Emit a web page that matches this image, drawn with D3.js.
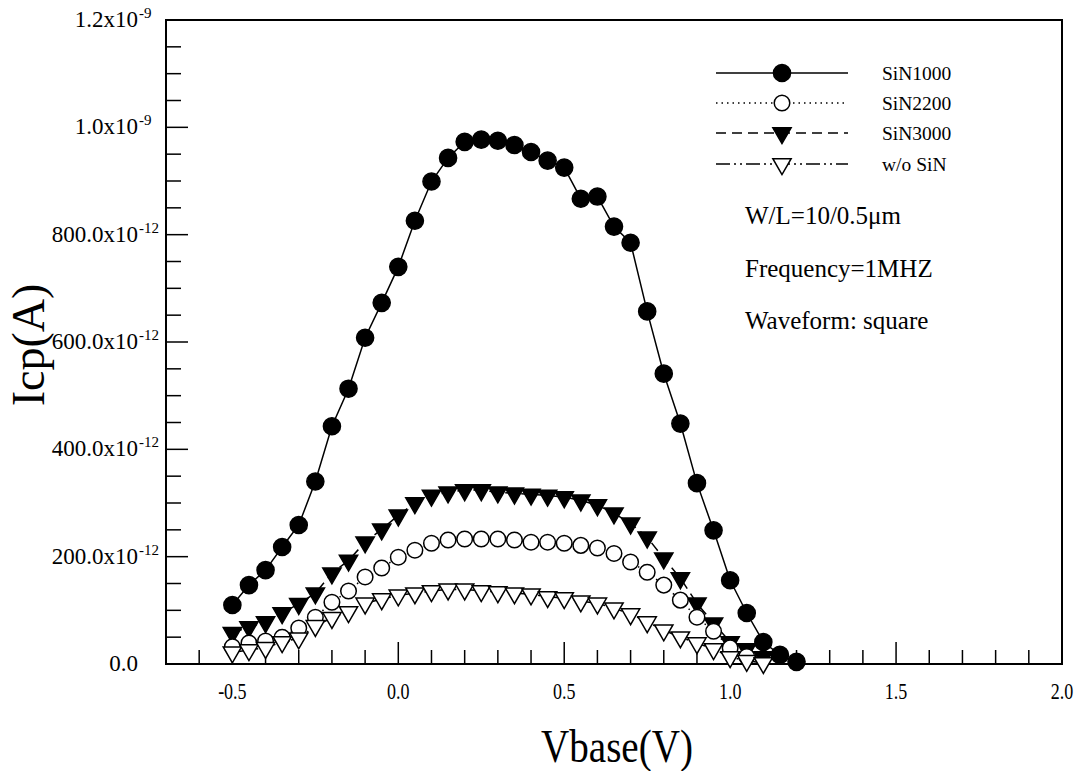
<!DOCTYPE html>
<html><head><meta charset="utf-8">
<script src="https://cdn.jsdelivr.net/npm/d3@7"></script>
<style>
html,body{margin:0;padding:0;background:#fff;}
svg text{font-family:"Liberation Serif","Times New Roman","DejaVu Serif",serif;fill:#000;}
</style></head>
<body><svg id="chart" width="1082" height="771" font-family="Liberation Serif, serif"></svg>
<script>
// ---- data (current in pA, i.e. ×1e-12 A) ----
const xSiN1000 = [-0.5,-0.45,-0.4,-0.35,-0.3,-0.25,-0.2,-0.15,-0.1,-0.05,0.0,0.05,0.1,0.15,0.2,0.25,0.3,0.35,0.4,0.45,0.5,0.55,0.6,0.65,0.7,0.75,0.8,0.85,0.9,0.95,1.0,1.05,1.1,1.15,1.2];
const ySiN1000 = [110,147,175,218,259,340,443,513,608,673,740,826,899,943,973,977,975,967,954,938,925,867,871,815,785,657,541,448,337,249,156,95,41,17,4];

const xSiN2200 = [-0.5,-0.45,-0.4,-0.35,-0.3,-0.25,-0.2,-0.15,-0.1,-0.05,0.0,0.05,0.1,0.15,0.2,0.25,0.3,0.35,0.4,0.45,0.5,0.55,0.6,0.65,0.7,0.75,0.8,0.85,0.9,0.95,1.0,1.05];
const ySiN2200 = [32,39,43,50,67,87,115,136,162,179,199,212,225,231,233,233,233,231,227,227,225,221,216,206,190,171,147,119,87,61,30,14];

const xSiN3000 = [-0.5,-0.45,-0.4,-0.35,-0.3,-0.25,-0.2,-0.15,-0.1,-0.05,0.0,0.05,0.1,0.15,0.2,0.25,0.3,0.35,0.4,0.45,0.5,0.55,0.6,0.65,0.7,0.75,0.8,0.85,0.9,0.95,1.0,1.05,1.1];
const ySiN3000 = [58,69,78,95,112,132,169,193,227,251,277,300,314,320,324,324,320,318,316,314,311,305,296,281,262,236,197,160,113,76,41,28,13];

const xNoSiN = [-0.5,-0.45,-0.4,-0.35,-0.3,-0.25,-0.2,-0.15,-0.1,-0.05,0.0,0.05,0.1,0.15,0.2,0.25,0.3,0.35,0.4,0.45,0.5,0.55,0.6,0.65,0.7,0.75,0.8,0.85,0.9,0.95,1.0,1.05,1.1];
const yNoSiN = [22,26,30,41,48,71,86,97,113,121,128,132,136,139,139,136,134,132,130,125,123,117,113,104,93,78,63,50,39,28,13,6,2];

const seriesNames = ["SiN1000","SiN2200","SiN3000","w/o SiN"];
const xMajorTicks = [-0.5,0.0,0.5,1.0,1.5,2.0];
const xTickLabels = ["-0.5","0.0","0.5","1.0","1.5","2.0"];
const xMinorTicks = [-0.6,-0.4,-0.3,-0.2,-0.1,0.1,0.2,0.3,0.4,0.6,0.7,0.8,0.9,1.1,1.2,1.3,1.4,1.6,1.7,1.8,1.9];
const yMajorTicks = [0,200,400,600,800,1000,1200];
const yTickMantissa = ["0.0","200.0x10","400.0x10","600.0x10","800.0x10","1.0x10","1.2x10"];
const yTickExponent = ["","-12","-12","-12","-12","-9","-9"];
const yMinorTicks = [50,100,150,250,300,350,450,500,550,650,700,750,850,900,950,1050,1100,1150];
const annotations = ["W/L=10/0.5\u03bcm","Frequency=1MHZ","Waveform: square"];
const xTitle = "Vbase(V)";
const yTitle = "Icp(A)";

// ---- layout ----
const L = 166, R = 1062, T = 20, B = 664;
const svg = d3.select("#chart");
const x = d3.scaleLinear().domain([-0.7, 2.0]).range([L, R]);
const y = d3.scaleLinear().domain([0, 1200]).range([B, T]);

// frame
svg.append("rect").attr("x", L).attr("y", T).attr("width", R - L).attr("height", B - T)
  .attr("fill", "none").attr("stroke", "#000").attr("stroke-width", 2);

// x axis ticks (inward)
const gx = svg.append("g");
gx.selectAll("line.maj").data(xMajorTicks).join("line")
  .attr("x1", d => x(d)).attr("x2", d => x(d)).attr("y1", B).attr("y2", B - 22)
  .attr("stroke", "#000").attr("stroke-width", 1.5);
gx.selectAll("line.min").data(xMinorTicks).join("line")
  .attr("class","min")
  .attr("x1", d => x(d)).attr("x2", d => x(d)).attr("y1", B).attr("y2", B - 14)
  .attr("stroke", "#000").attr("stroke-width", 1.5);
gx.selectAll("text").data(xMajorTicks).join("text")
  .attr("transform", d => `translate(${x(d)},${B + 35}) scale(0.75,1)`)
  .attr("text-anchor", "middle")
  .attr("font-size", 24).text((d, i) => xTickLabels[i]);

// y axis ticks (inward)
const gy = svg.append("g");
gy.selectAll("line.maj").data(yMajorTicks).join("line")
  .attr("x1", L).attr("x2", L + 22).attr("y1", d => y(d)).attr("y2", d => y(d))
  .attr("stroke", "#000").attr("stroke-width", 1.5);
gy.selectAll("line.min").data(yMinorTicks).join("line")
  .attr("class","min")
  .attr("x1", L).attr("x2", L + 15).attr("y1", d => y(d)).attr("y2", d => y(d))
  .attr("stroke", "#000").attr("stroke-width", 1.5);
gy.selectAll("text.m").data(yMajorTicks).join("text")
  .attr("class","m")
  .attr("x", 138).attr("y", d => y(d) + 7).attr("text-anchor", "end").attr("font-size", 23)
  .text((d, i) => yTickMantissa[i]);
gy.selectAll("text.e").data(yMajorTicks).join("text")
  .attr("class","e")
  .attr("x", 139).attr("y", d => y(d) - 2).attr("text-anchor", "start").attr("font-size", 15)
  .text((d, i) => yTickExponent[i]);

// axis titles
svg.append("text").attr("transform", `translate(617,762) scale(0.85,1)`).attr("text-anchor", "middle")
  .attr("font-size", 46).text(xTitle);
svg.append("text").attr("transform", `translate(44,345) rotate(-90)`)
  .attr("text-anchor", "middle").attr("font-size", 46).text(yTitle);

// series
const sym = {
  circle: d3.symbol().type(d3.symbolCircle).size(230)(),
  ocircle: d3.symbol().type(d3.symbolCircle).size(190)(),
  tri: d3.symbol().type(d3.symbolTriangle).size(145)()
};
const series = [
  {name: seriesNames[2], xs: xSiN3000, ys: ySiN3000, dash: "10,6", path: sym.tri, rot: 180, fill: "#000"},
  {name: seriesNames[1], xs: xSiN2200, ys: ySiN2200, dash: "1.5,4", path: sym.ocircle, rot: 0, fill: "#fff"},
  {name: seriesNames[3], xs: xNoSiN, ys: yNoSiN, dash: "14,4,2,4,2,4", path: sym.tri, rot: 180, fill: "#fff"},
  {name: seriesNames[0], xs: xSiN1000, ys: ySiN1000, dash: null, path: sym.circle, rot: 0, fill: "#000"}
];
const line = d3.line().x(d => x(d[0])).y(d => y(d[1]));
series.forEach(s => {
  const pts = s.xs.map((v, i) => [v, s.ys[i]]);
  svg.append("path").attr("d", line(pts)).attr("fill", "none").attr("stroke", "#000")
    .attr("stroke-width", 1.5).attr("stroke-dasharray", s.dash);
  svg.append("g").selectAll("path").data(pts).join("path")
    .attr("d", s.path)
    .attr("transform", d => `translate(${x(d[0])},${y(d[1])}) rotate(${s.rot})`)
    .attr("fill", s.fill).attr("stroke", "#000").attr("stroke-width", 1.5);
});

// legend
const legendOrder = [3, 1, 0, 2];
const lgY = [73, 103, 133, 164];
legendOrder.forEach((k, i) => {
  const s = series[k];
  const g = svg.append("g");
  g.append("line").attr("x1", 716).attr("x2", 848).attr("y1", lgY[i]).attr("y2", lgY[i])
    .attr("stroke", "#000").attr("stroke-width", 1.5).attr("stroke-dasharray", s.dash);
  g.append("path").attr("d", s.path)
    .attr("transform", `translate(782,${lgY[i]}) rotate(${s.rot})`)
    .attr("fill", s.fill).attr("stroke", "#000").attr("stroke-width", 1.5);
  g.append("text").attr("x", 882).attr("y", lgY[i] + 7).attr("font-size", 19.5).text(s.name);
});

// annotations
const annY = [224, 277, 329];
annotations.forEach((t, i) => {
  svg.append("text").attr("x", 745).attr("y", annY[i]).attr("font-size", 25).text(t);
});
</script></body></html>
